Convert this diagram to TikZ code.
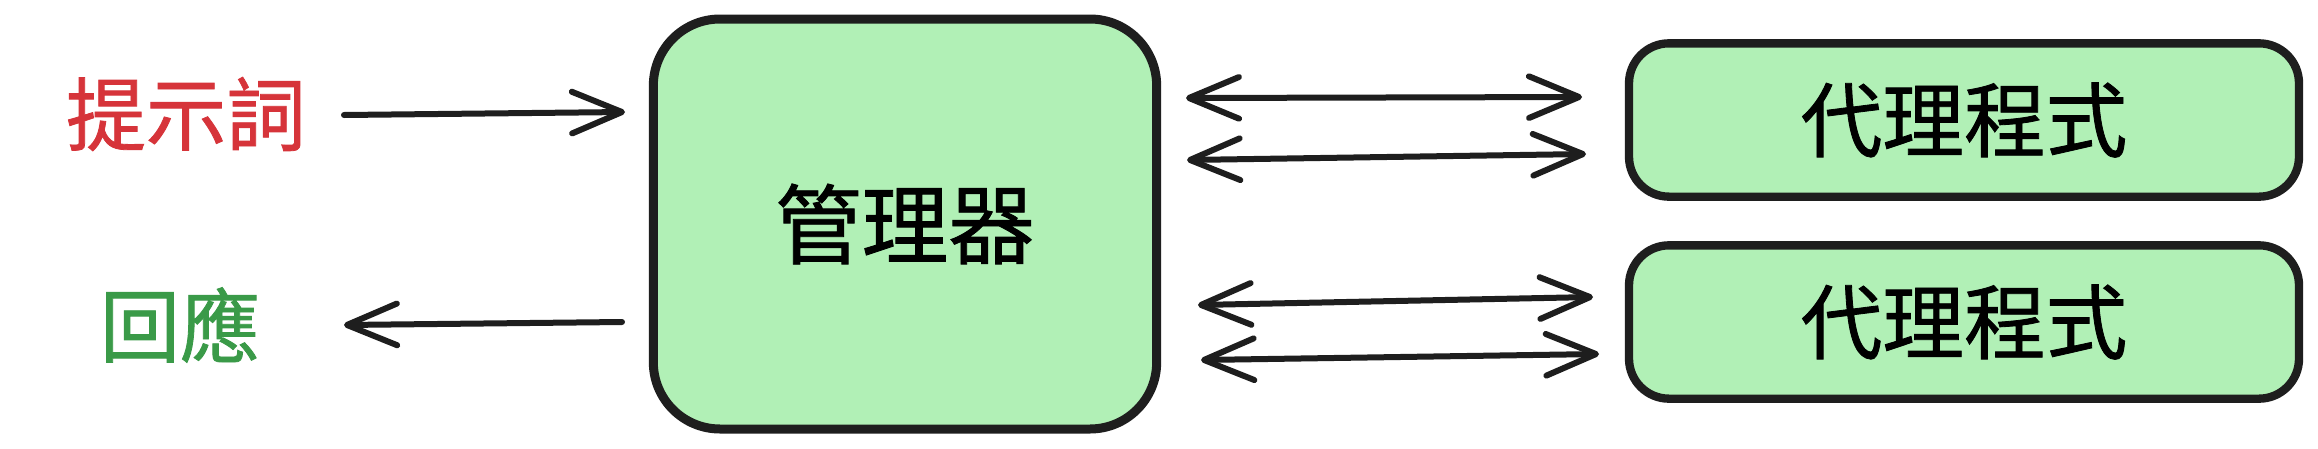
\documentclass[tikz,border=0pt]{standalone}
\usepackage{fontspec}
\newfontfamily\cjk[FakeBold=1.0]{Noto Sans CJK TC}
\usetikzlibrary{arrows.meta}
\definecolor{boxfill}{HTML}{B1F0B6}
\definecolor{inkline}{HTML}{1E1E1E}
\definecolor{promptred}{HTML}{D6343A}
\definecolor{respgreen}{HTML}{3A9A48}
\tikzset{
  mgrbox/.style={draw=inkline, fill=boxfill, line width=2.7pt, rounded corners=20pt,
    minimum width=151pt, minimum height=123pt, inner sep=0pt, font=\cjk\fontsize{26}{30}\selectfont},
  agentbox/.style={draw=inkline, fill=boxfill, line width=2.5pt, rounded corners=12pt,
    minimum width=201pt, minimum height=46pt, inner sep=0pt, font=\cjk\fontsize{24.5}{28}\selectfont},
  lbl/.style={inner sep=0pt, font=\cjk\fontsize{24}{28}\selectfont},
  arr/.style={draw=inkline, line width=1.8pt, line cap=round,
    -{Straight Barb[length=15pt, width=12.5pt, round]}},
  darr/.style={draw=inkline, line width=1.8pt, line cap=round,
    {Straight Barb[length=15pt, width=12.5pt, round]}-{Straight Barb[length=15pt, width=12.5pt, round]}}
}
\begin{document}
\begin{tikzpicture}[x=0.3pt, y=-0.3pt]
\useasboundingbox (0,0) rectangle (2318,448);
\fill[white] (0,0) rectangle (2318,448);
% nodes
\node[lbl, text=promptred] (p) at (186,114) {提示詞};
\node[lbl, text=respgreen] (r) at (180,325) {回應};
\node[mgrbox] (m) at (905,224) {管理器};
\node[agentbox] (a1) at (1964,120) {代理程式};
\node[agentbox] (a2) at (1964,322) {代理程式};
% connector end points
\coordinate (pout) at (344,115);
\coordinate (min) at (625,112);
\coordinate (mout) at (622,322);
\coordinate (rin) at (344,325);
\coordinate (m1a) at (1186,98);
\coordinate (a1a) at (1582,97);
\coordinate (m1b) at (1187,160);
\coordinate (a1b) at (1586,154);
\coordinate (m2a) at (1198,305);
\coordinate (a2a) at (1593,297);
\coordinate (m2b) at (1201,360);
\coordinate (a2b) at (1599,354);
% connectors
\draw[arr] (pout) -- (min);
\draw[arr] (mout) -- (rin);
\draw[darr] (m1a) -- (a1a);
\draw[darr] (m1b) -- (a1b);
\draw[darr] (m2a) -- (a2a);
\draw[darr] (m2b) -- (a2b);
\end{tikzpicture}
\end{document}
